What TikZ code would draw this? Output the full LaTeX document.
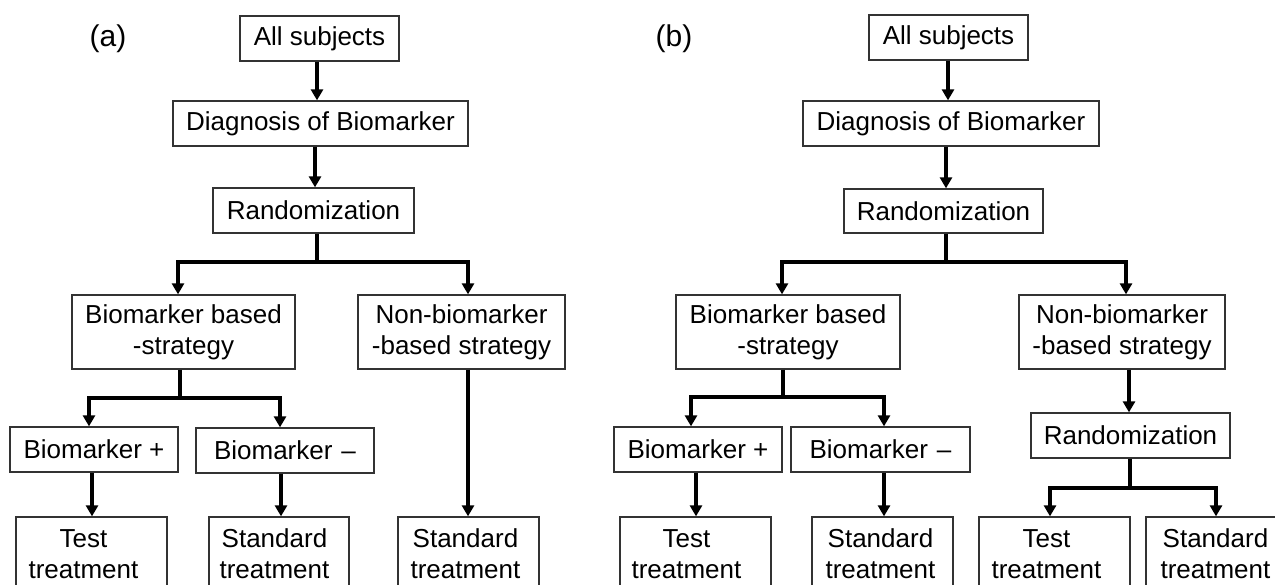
\documentclass[tikz,border=0pt]{standalone}
\usepackage{fontspec}
\setmainfont{Liberation Sans}
\usetikzlibrary{arrows.meta,calc}
\begin{document}
\begin{tikzpicture}[x=1pt,y=-1pt,
  box/.style={draw=black!80, line width=1.3pt, inner sep=0pt, align=center,
              font=\fontsize{26}{31}\selectfont},
  btext/.style={inner sep=0pt, align=center, anchor=west,
              font=\fontsize{26}{31}\selectfont},
  conn/.style={line width=3.5pt, line join=miter},
  arr/.style={conn, -{Triangle[width=12pt,length=11pt]}},
  lab/.style={font=\fontsize{30}{36}\selectfont, inner sep=0pt}]
\useasboundingbox (0,0) rectangle (1275,585);
\clip (0,0) rectangle (1275,585);

% ---------------- panel (a) ----------------
\node[lab] (la) at (108,39) {(a)};
\node[box, minimum width=159, minimum height=45] (aAll)  at (319.5,38.5) {All subjects};
\node[box, minimum width=295, minimum height=45] (aDiag) at (320.5,123.5) {Diagnosis of Biomarker};
\node[box, minimum width=201, minimum height=45] (aRand) at (313.5,210.5) {Randomization};
\node[box, minimum width=223, minimum height=74] (aBBS)  at (183.5,332) {Biomarker based\\-strategy};
\node[box, minimum width=207, minimum height=74] (aNon)  at (461.5,332) {Non-biomarker\\-based strategy};
\node[box, minimum width=168, minimum height=45] (aBp)   at (94,449.5) {Biomarker +};
\node[box, minimum width=178, minimum height=45] (aBm)   at (285,450.5) {Biomarker\hspace{9pt}\textendash};
\node[box, minimum width=151, minimum height=74] (aTest) at (91.5,554) {};
\node[btext] (aTestT) at ([xshift=13]aTest.west) {Test\\treatment};
\node[box, minimum width=140, minimum height=74] (aStd)  at (279,554) {};
\node[btext] (aStdT) at ([xshift=11]aStd.west) {Standard\\treatment};
\node[box, minimum width=141, minimum height=74] (aStd2) at (468.5,554) {};
\node[btext] (aStd2T) at ([xshift=13]aStd2.west) {Standard\\treatment};

\draw[arr] (317,0 |- aAll.south) -- (317,0 |- aDiag.north);
\draw[arr] (315,0 |- aDiag.south) -- (315,0 |- aRand.north);
\coordinate (aJ1) at (317,262);
\draw[conn] (aJ1 |- aRand.south) -- (aJ1);
\draw[arr] (aJ1) -| (178,0 |- aBBS.north);
\draw[arr] (aJ1) -| (468,0 |- aNon.north);
\coordinate (aJ2) at (180,398);
\draw[conn] (aJ2 |- aBBS.south) -- (aJ2);
\draw[arr] (aJ2) -| (89,0 |- aBp.north);
\draw[arr] (aJ2) -| (280,0 |- aBm.north);
\draw[arr] (92,0 |- aBp.south) -- (92,0 |- aTest.north);
\draw[arr] (281,0 |- aBm.south) -- (281,0 |- aStd.north);
\draw[arr] (468,0 |- aNon.south) -- (468,0 |- aStd2.north);

% ---------------- panel (b) ----------------
\node[lab] (lb) at (674,39) {(b)};
\node[box, minimum width=159, minimum height=45] (bAll)  at (948.5,37.5) {All subjects};
\node[box, minimum width=296, minimum height=45] (bDiag) at (951,123.5) {Diagnosis of Biomarker};
\node[box, minimum width=199, minimum height=44] (bRand) at (943.5,211) {Randomization};
\node[box, minimum width=224, minimum height=74] (bBBS)  at (788,332) {Biomarker based\\-strategy};
\node[box, minimum width=206, minimum height=74] (bNon)  at (1122,332) {Non-biomarker\\-based strategy};
\node[box, minimum width=168, minimum height=45] (bBp)   at (698,449.5) {Biomarker +};
\node[box, minimum width=179, minimum height=45] (bBm)   at (880.5,449.5) {Biomarker\hspace{9pt}\textendash};
\node[box, minimum width=151, minimum height=74] (bTest) at (695.5,554) {};
\node[btext] (bTestT) at ([xshift=12]bTest.west) {Test\\treatment};
\node[box, minimum width=141, minimum height=74] (bStd)  at (882.5,554) {};
\node[btext] (bStdT) at ([xshift=14]bStd.west) {Standard\\treatment};
\node[box, minimum width=199, minimum height=45] (bRand2) at (1130.5,435.5) {Randomization};
\node[box, minimum width=151, minimum height=74] (bTest2) at (1054.5,554) {};
\node[btext] (bTest2T) at ([xshift=13]bTest2.west) {Test\\treatment};
\node[box, minimum width=141, minimum height=74] (bStd2)  at (1216.5,554) {};
\node[btext] (bStd2T) at ([xshift=15]bStd2.west) {Standard\\treatment};

\draw[arr] (948,0 |- bAll.south) -- (948,0 |- bDiag.north);
\draw[arr] (946,0 |- bDiag.south) -- (946,0 |- bRand.north);
\coordinate (bJ1) at (946,262);
\draw[conn] (bJ1 |- bRand.south) -- (bJ1);
\draw[arr] (bJ1) -| (782,0 |- bBBS.north);
\draw[arr] (bJ1) -| (1126,0 |- bNon.north);
\coordinate (bJ2) at (783,397);
\draw[conn] (bJ2 |- bBBS.south) -- (bJ2);
\draw[arr] (bJ2) -| (691,0 |- bBp.north);
\draw[arr] (bJ2) -| (884,0 |- bBm.north);
\draw[arr] (696,0 |- bBp.south) -- (696,0 |- bTest.north);
\draw[arr] (884,0 |- bBm.south) -- (884,0 |- bStd.north);
\draw[arr] (1129,0 |- bNon.south) -- (1129,0 |- bRand2.north);
\coordinate (bJ3) at (1130,488);
\draw[conn] (bJ3 |- bRand2.south) -- (bJ3);
\draw[arr] (bJ3) -| (1050,0 |- bTest2.north);
\draw[arr] (bJ3) -| (1216,0 |- bStd2.north);
\end{tikzpicture}
\end{document}
